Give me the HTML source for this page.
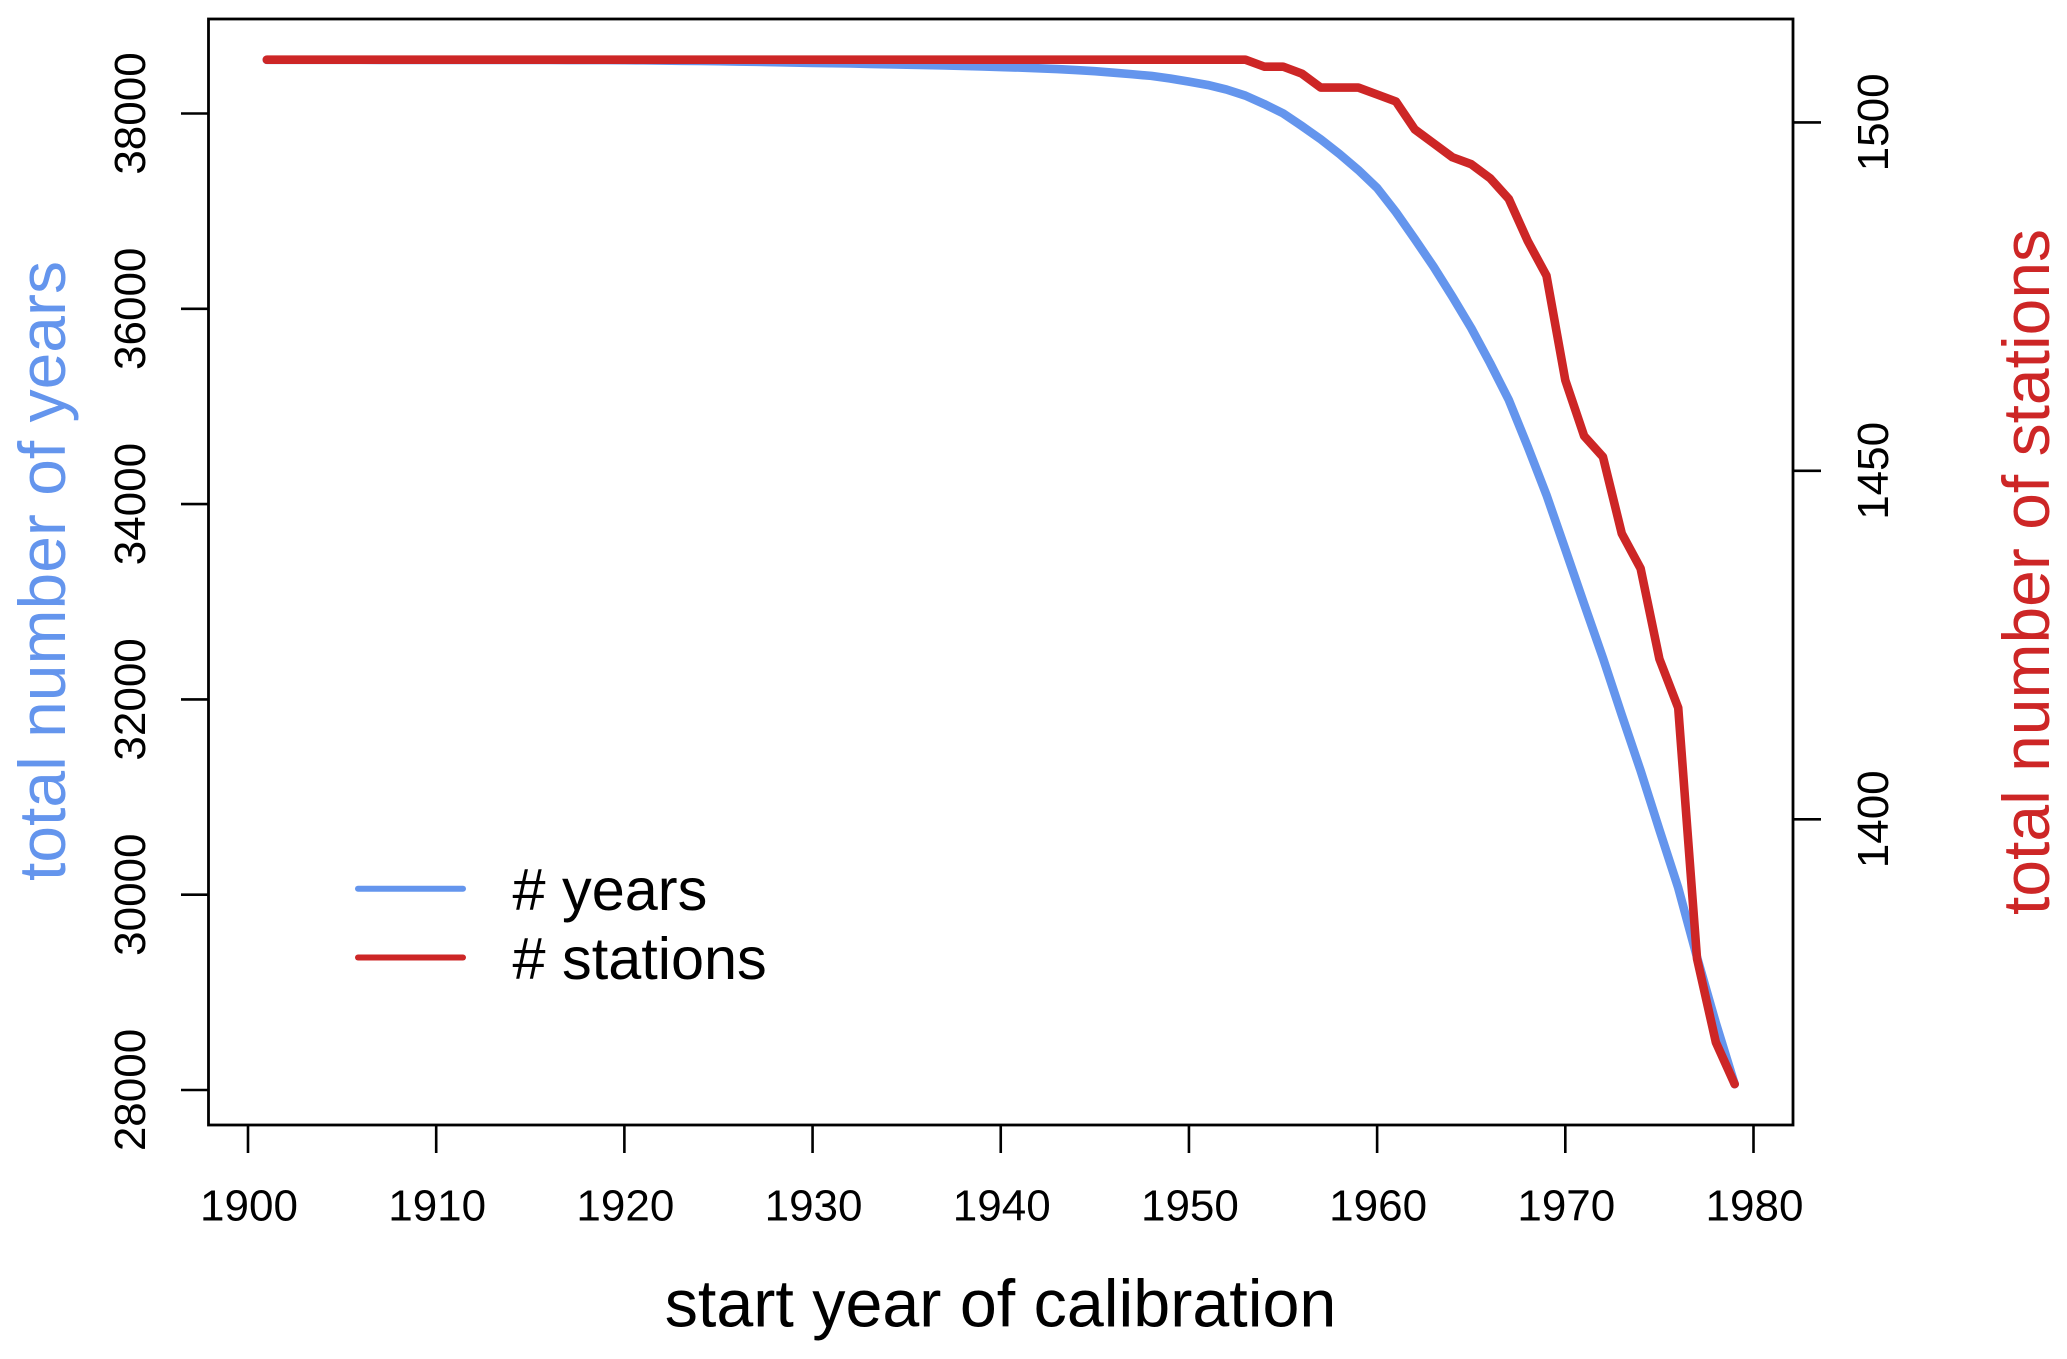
<!DOCTYPE html>
<html lang="en">
<head>
<meta charset="utf-8">
<title>Total number of years and stations by start year of calibration</title>
<style>
html,body{margin:0;padding:0;background:#fff;}
svg{display:block;font-family:"Liberation Sans",Arial,sans-serif;}
</style>
</head>
<body>
<svg id="chart" xmlns="http://www.w3.org/2000/svg" width="2067" height="1359" viewBox="0 0 2067 1359">
  <rect x="0" y="0" width="2067" height="1359" fill="#ffffff"/>
  <g id="series-layer"></g>
  <rect x="208.5" y="19" width="1584.5" height="1106" fill="none" stroke="#000" stroke-width="2.8"/>
  <g id="x-axis"></g>
  <g id="y-axis-left"></g>
  <g id="y-axis-right"></g>

  <text x="1000.5" y="1326.7" font-size="66.4" text-anchor="middle" fill="#000">start year of calibration</text>
  <text transform="translate(65,571) rotate(-90)" font-size="66" text-anchor="middle" fill="#6495ED">total number of years</text>
  <text transform="translate(2049,572) rotate(-90)" font-size="66" text-anchor="middle" fill="#CD2626">total number of stations</text>

  <g>
    <line x1="358" y1="888.7" x2="463" y2="888.7" stroke="#6495ED" stroke-width="6" stroke-linecap="round"/>
    <text x="512.5" y="910" font-size="59.4" fill="#000"># years</text>
    <line x1="358" y1="957.5" x2="463" y2="957.5" stroke="#CD2626" stroke-width="6" stroke-linecap="round"/>
    <text x="512.5" y="979" font-size="59.4" fill="#000"># stations</text>
  </g>
</svg>
<script>
const startYears = [
  1901,1902,1903,1904,1905,1906,1907,1908,1909,1910,
  1911,1912,1913,1914,1915,1916,1917,1918,1919,1920,
  1921,1922,1923,1924,1925,1926,1927,1928,1929,1930,
  1931,1932,1933,1934,1935,1936,1937,1938,1939,1940,
  1941,1942,1943,1944,1945,1946,1947,1948,1949,1950,
  1951,1952,1953,1954,1955,1956,1957,1958,1959,1960,
  1961,1962,1963,1964,1965,1966,1967,1968,1969,1970,
  1971,1972,1973,1974,1975,1976,1977,1978,1979
];
const totalYears = [
  38550,38550,38550,38550,38550,38550,38549,38549,38549,38549,
  38549,38549,38548,38548,38548,38548,38547,38547,38547,38546,
  38544,38542,38540,38538,38535,38532,38529,38526,38522,38518,
  38515,38512,38508,38504,38500,38496,38492,38487,38482,38476,
  38470,38463,38455,38445,38433,38418,38402,38385,38358,38326,
  38292,38245,38183,38097,38002,37872,37736,37585,37421,37237,
  36990,36715,36431,36124,35803,35445,35065,34590,34093,33537,
  32977,32424,31840,31270,30665,30070,29360,28685,28060
];
const totalStations = [
  1509,1509,1509,1509,1509,1509,1509,1509,1509,1509,
  1509,1509,1509,1509,1509,1509,1509,1509,1509,1509,
  1509,1509,1509,1509,1509,1509,1509,1509,1509,1509,
  1509,1509,1509,1509,1509,1509,1509,1509,1509,1509,
  1509,1509,1509,1509,1509,1509,1509,1509,1509,1509,
  1509,1509,1509,1508,1508,1507,1505,1505,1505,1504,
  1503,1499,1497,1495,1494,1492,1489,1483,1478,1463,
  1455,1452,1441,1436,1423,1416,1380,1368,1362
];
const xTicks = [1900,1910,1920,1930,1940,1950,1960,1970,1980];
const yearsTicks = [28000,30000,32000,34000,36000,38000];
const stationsTicks = [1400,1450,1500];

function scaleX(v){ return 248 + (v - 1900) * (1753.5 - 248) / 80; }
function scaleYears(v){ return 113.5 + (38000 - v) * (1090 - 113.5) / 10000; }
function scaleStations(v){ return 122.4 + (1500 - v) * (819.3 - 122.4) / 100; }

const NS = 'http://www.w3.org/2000/svg';

function makeLine(x1, y1, x2, y2){
  const l = document.createElementNS(NS, 'line');
  l.setAttribute('x1', x1);
  l.setAttribute('y1', y1);
  l.setAttribute('x2', x2);
  l.setAttribute('y2', y2);
  l.setAttribute('stroke', '#000');
  l.setAttribute('stroke-width', '2.6');
  return l;
}
function makeText(label, size){
  const t = document.createElementNS(NS, 'text');
  t.setAttribute('font-size', size);
  t.setAttribute('text-anchor', 'middle');
  t.setAttribute('fill', '#000');
  t.textContent = label;
  return t;
}
function makeSeries(xs, ys, yScale, color){
  const p = document.createElementNS(NS, 'polyline');
  p.setAttribute('points', xs.map((x, i) => scaleX(x).toFixed(2) + ',' + yScale(ys[i]).toFixed(2)).join(' '));
  p.setAttribute('fill', 'none');
  p.setAttribute('stroke', color);
  p.setAttribute('stroke-width', '8.6');
  p.setAttribute('stroke-linejoin', 'round');
  p.setAttribute('stroke-linecap', 'round');
  return p;
}

const seriesLayer = document.getElementById('series-layer');
const yearsLine = makeSeries(startYears, totalYears, scaleYears, '#6495ED');


seriesLayer.appendChild(yearsLine);
const stationsLine = makeSeries(startYears, totalStations, scaleStations, '#CD2626');


seriesLayer.appendChild(stationsLine);

const xAxis = document.getElementById('x-axis');
xTicks.forEach(function(v){
  const x = scaleX(v);
  const tick = makeLine(x, 1125, x, 1153);
  
  
  xAxis.appendChild(tick);
  const label = makeText(String(v), 44);
  
  
  label.setAttribute('x', x + 1);
  label.setAttribute('y', 1220.7);
  xAxis.appendChild(label);
});

const leftAxis = document.getElementById('y-axis-left');
yearsTicks.forEach(function(v){
  const y = scaleYears(v);
  const tick = makeLine(181, y, 208.5, y);
  
  
  leftAxis.appendChild(tick);
  const label = makeText(String(v), 44);
  
  
  label.setAttribute('transform', 'translate(145,' + y + ') rotate(-90)');
  leftAxis.appendChild(label);
});

const rightAxis = document.getElementById('y-axis-right');
stationsTicks.forEach(function(v){
  const y = scaleStations(v);
  const tick = makeLine(1793, y, 1821, y);
  
  
  rightAxis.appendChild(tick);
  const label = makeText(String(v), 44);
  
  
  label.setAttribute('transform', 'translate(1888,' + y + ') rotate(-90)');
  rightAxis.appendChild(label);
});
</script>
</body>
</html>
